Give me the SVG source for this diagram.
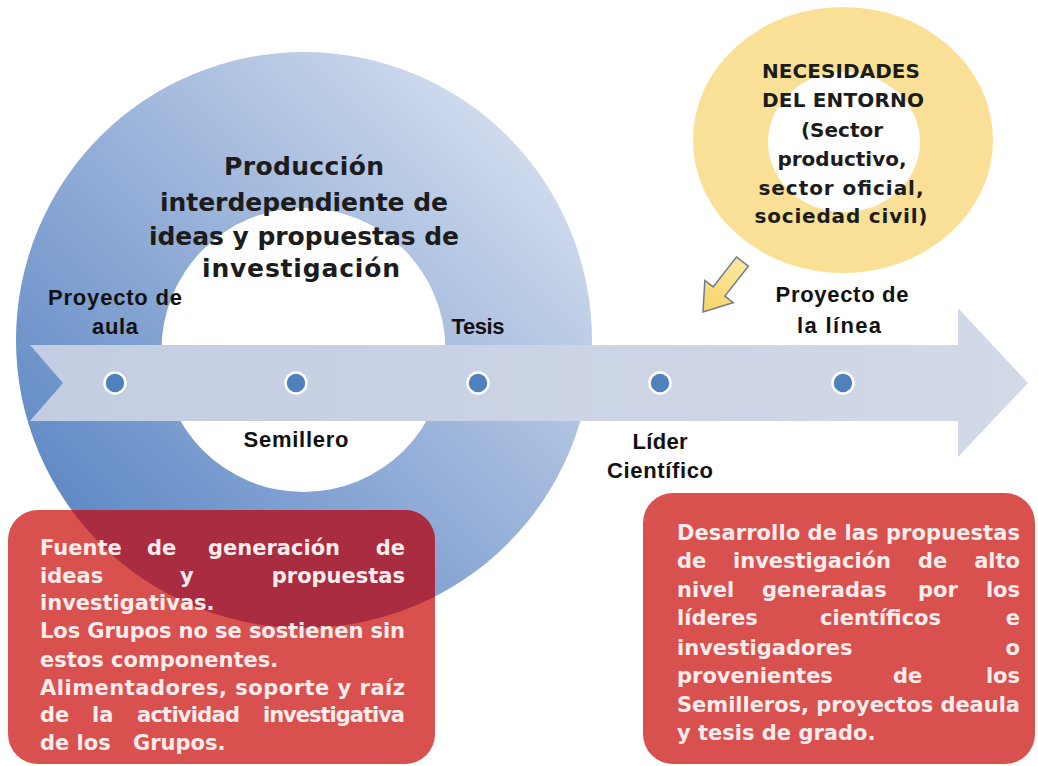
<svg xmlns="http://www.w3.org/2000/svg" width="1038" height="766" viewBox="0 0 1038 766">
  <defs>
    <linearGradient id="gBlue" x1="0" y1="1" x2="1" y2="0">
      <stop offset="0" stop-color="#4a7abd"/>
      <stop offset="0.45" stop-color="#8eaad6"/>
      <stop offset="1" stop-color="#e6ebf4"/>
    </linearGradient>
    <linearGradient id="gBand" x1="0" y1="0" x2="1" y2="0">
      <stop offset="0" stop-color="#c3cde1"/>
      <stop offset="1" stop-color="#d2d9e8"/>
    </linearGradient>
    <linearGradient id="gYArrow" x1="0" y1="0" x2="1" y2="0">
      <stop offset="0" stop-color="#fbe7a2"/>
      <stop offset="1" stop-color="#f7d466"/>
    </linearGradient>
    <clipPath id="clipLeftBox">
      <rect x="8" y="510" width="427" height="254" rx="30"/>
    </clipPath>
    <style>
      .title { font-family: "DejaVu Sans", sans-serif; font-weight: bold; font-size: 25px; fill: #1c1c1c; text-anchor: middle; }
      .lbl { font-family: "Liberation Sans", Arial, sans-serif; font-weight: bold; font-size: 22px; fill: #111; text-anchor: middle; }
      .ytxt { font-family: "DejaVu Sans", sans-serif; font-weight: bold; font-size: 20px; fill: #1c1c1c; text-anchor: middle; }
      .btxt { font-family: "DejaVu Sans", sans-serif; font-weight: bold; font-size: 21px; fill: #fbecec; }
      .end { text-anchor: end; }
      .dot { fill: #4f81bd; stroke: #ffffff; stroke-width: 2.5; }
      .box { fill: #d9514f; }
    </style>
  </defs>

  <rect width="1038" height="766" fill="#ffffff"/>

  <g id="blue-ring">
    <path fill="url(#gBlue)" fill-rule="evenodd" d="M16,340 a288,288 0 1,0 576,0 a288,288 0 1,0 -576,0 Z M161.5,350 a142,142 0 1,0 284,0 a142,142 0 1,0 -284,0 Z"/>
  </g>

  <g id="timeline-arrow">
    <polygon fill="url(#gBand)" points="30,345 958,345 958,308 1028,383 958,457 958,421 30,421 63,383"/>
  </g>

  <g id="title">
    <text class="title" x="304" y="175" textLength="160">Producción</text>
    <text class="title" x="304" y="211" textLength="288">interdependiente de</text>
    <text class="title" x="304" y="245" textLength="310">ideas y propuestas de</text>
    <text class="title" x="301" y="277" textLength="198">investigación</text>
  </g>

  <g id="node-proyecto-aula">
    <circle class="dot" cx="115" cy="383" r="10.5"/>
    <text class="lbl" x="115" y="305" textLength="134">Proyecto de</text>
    <text class="lbl" x="115" y="334" textLength="46">aula</text>
  </g>
  <g id="node-semillero">
    <circle class="dot" cx="296" cy="383" r="10.5"/>
    <text class="lbl" x="296" y="447" textLength="105">Semillero</text>
  </g>
  <g id="node-tesis">
    <circle class="dot" cx="478" cy="383" r="10.5"/>
    <text class="lbl" x="478" y="334" textLength="53">Tesis</text>
  </g>
  <g id="node-lider">
    <circle class="dot" cx="660" cy="383" r="10.5"/>
    <text class="lbl" x="660" y="449" textLength="55">Líder</text>
    <text class="lbl" x="660" y="478" textLength="106">Científico</text>
  </g>
  <g id="node-proyecto-linea">
    <circle class="dot" cx="843" cy="383" r="10.5"/>
    <text class="lbl" x="842" y="302" textLength="133">Proyecto de</text>
    <text class="lbl" x="839" y="333" textLength="84">la línea</text>
  </g>

  <g id="node-necesidades">
    <path fill="#f9e096" fill-rule="evenodd" d="M693,140 a150,133 0 1,0 300,0 a150,133 0 1,0 -300,0 Z M768,142 a76,70 0 1,0 152,0 a76,70 0 1,0 -152,0 Z"/>
    <text class="ytxt" x="841" y="78" textLength="158">NECESIDADES</text>
    <text class="ytxt" x="843" y="107" textLength="162">DEL ENTORNO</text>
    <text class="ytxt" x="842" y="137">(Sector</text>
    <text class="ytxt" x="842" y="166">productivo,</text>
    <text class="ytxt" x="841" y="195" textLength="165">sector oficial,</text>
    <text class="ytxt" x="841" y="223" textLength="173">sociedad civil)</text>
  </g>

  <g id="connectors">
    <polygon transform="translate(703,312) rotate(128)" fill="url(#gYArrow)" stroke="#6f7b8a" stroke-width="1.5" stroke-linejoin="miter" points="-64,-7.5 -26,-7.5 -26,-18 0,0 -26,18 -26,7.5 -64,7.5"/>
  </g>

  <g id="box-left">
    <rect class="box" x="8" y="510" width="427" height="254" rx="30"/>
    <g clip-path="url(#clipLeftBox)">
      <circle cx="304" cy="340" r="288" fill="#a92c40"/>
    </g>
    <text class="btxt" x="40" y="555">Fuente</text>
    <text class="btxt" x="147" y="555">de</text>
    <text class="btxt" x="208" y="555">generación</text>
    <text class="btxt end" x="405" y="555">de</text>
    <text class="btxt" x="40" y="583">ideas</text>
    <text class="btxt" x="180" y="583">y</text>
    <text class="btxt end" x="405" y="583">propuestas</text>
    <text class="btxt" x="40" y="610">investigativas.</text>
    <text class="btxt" x="40" y="638" textLength="365">Los Grupos no se sostienen sin</text>
    <text class="btxt" x="40" y="667">estos componentes.</text>
    <text class="btxt" x="40" y="695" textLength="365">Alimentadores, soporte y raíz</text>
    <text class="btxt" x="40" y="722">de</text>
    <text class="btxt" x="92" y="722">la</text>
    <text class="btxt" x="137" y="722" textLength="103">actividad</text>
    <text class="btxt" x="263" y="722" textLength="142">investigativa</text>
    <text class="btxt" x="40" y="750">de los</text>
    <text class="btxt" x="133" y="750">Grupos.</text>
  </g>

  <g id="box-right">
    <rect class="box" x="643" y="493" width="392" height="271" rx="30"/>
    <text class="btxt" x="677" y="540" textLength="343">Desarrollo de las propuestas</text>
    <text class="btxt" x="677" y="568">de</text>
    <text class="btxt" x="733" y="568">investigación</text>
    <text class="btxt" x="918" y="568">de</text>
    <text class="btxt end" x="1020" y="568">alto</text>
    <text class="btxt" x="677" y="597">nivel</text>
    <text class="btxt" x="762" y="597">generadas</text>
    <text class="btxt" x="918" y="597">por</text>
    <text class="btxt end" x="1020" y="597">los</text>
    <text class="btxt" x="677" y="625">líderes</text>
    <text class="btxt" x="820" y="625">científicos</text>
    <text class="btxt end" x="1020" y="625">e</text>
    <text class="btxt" x="677" y="655">investigadores</text>
    <text class="btxt end" x="1020" y="655">o</text>
    <text class="btxt" x="677" y="683">provenientes</text>
    <text class="btxt" x="893" y="683">de</text>
    <text class="btxt end" x="1020" y="683">los</text>
    <text class="btxt" x="677" y="712" textLength="343">Semilleros, proyectos deaula</text>
    <text class="btxt" x="677" y="740">y tesis de grado.</text>
  </g>
</svg>
